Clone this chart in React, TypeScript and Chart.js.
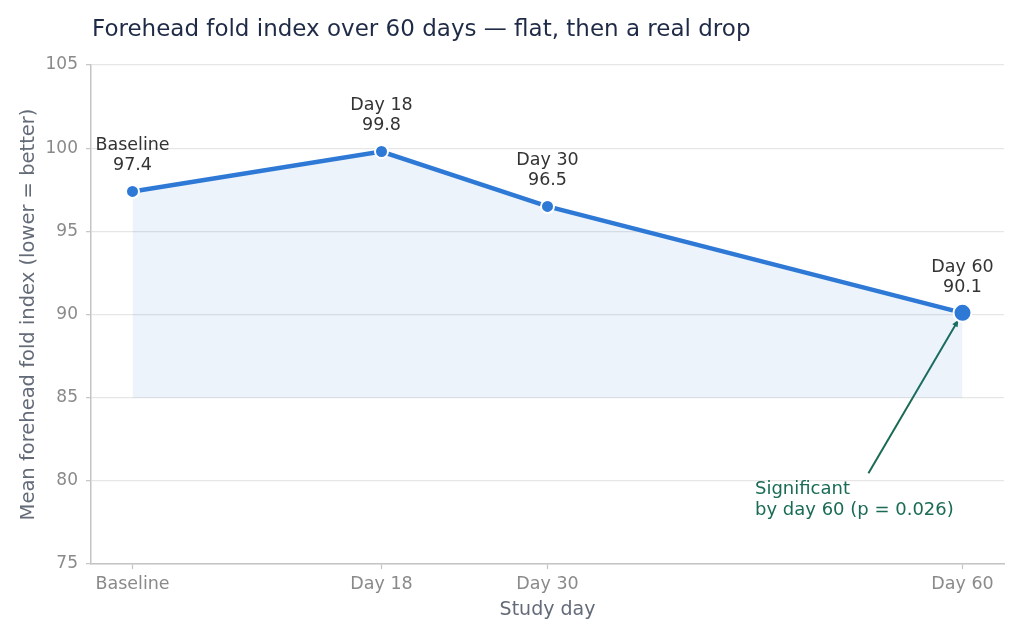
import React, { useEffect, useRef } from "react";
import { Chart, registerables } from "chart.js";

Chart.register(...registerables);

// ---- data ----
const categories = ["Baseline", "Day 18", "Day 30", "Day 60"];
const studyDays = [0, 18, 30, 60];
const foldIndex = [97.4, 99.8, 96.5, 90.1];
const pointRadii = [6.5, 6.5, 6.5, 9];

const titleText = "Forehead fold index over 60 days — flat, then a real drop";
const xAxisTitle = "Study day";
const yAxisTitle = "Mean forehead fold index (lower = better)";
const noteLines = ["Significant", "by day 60 (p = 0.026)"];
const noteAnchorDay = 45;
const noteAnchorValue = 79;
const noteTailDay = 53.2;
const noteTailValue = 80.45;

// ---- style ----
const FONT = "'DejaVu Sans', Verdana, sans-serif";
const LINE_COLOR = "#2e79d5";
const FILL_COLOR = "rgba(46, 121, 213, 0.09)";
const NOTE_COLOR = "#196b55";
const TITLE_COLOR = "#1f2b46";
const LABEL_COLOR = "#333333";
const TICK_COLOR = "#8a8a8a";
const AXIS_TITLE_COLOR = "#646b78";
const GRID_COLOR = "#e6e6e6";
const AXIS_COLOR = "#c4c4c4";

const overlayPlugin = {
  id: "overlay",
  beforeDatasetsDraw(chart: any) {
    const { ctx, scales } = chart;
    const x = scales.x;
    const y = scales.y;
    const last = foldIndex.length - 1;
    const tx = x.getPixelForValue(noteTailDay);
    const ty = y.getPixelForValue(noteTailValue);
    const px = x.getPixelForValue(studyDays[last]);
    const py = y.getPixelForValue(foldIndex[last]);
    const dx = px - tx;
    const dy = py - ty;
    const len = Math.hypot(dx, dy);
    const ux = dx / len;
    const uy = dy / len;
    const hx = px - ux * 8;
    const hy = py - uy * 8;
    ctx.save();
    ctx.strokeStyle = NOTE_COLOR;
    ctx.fillStyle = NOTE_COLOR;
    ctx.lineWidth = 2;
    ctx.beginPath();
    ctx.moveTo(tx, ty);
    ctx.lineTo(hx - ux * 4, hy - uy * 4);
    ctx.stroke();
    // small arrow head (mostly hidden under the marker)
    const ah = 7;
    const aw = 3;
    ctx.beginPath();
    ctx.moveTo(hx, hy);
    ctx.lineTo(hx - ux * ah - uy * aw, hy - uy * ah + ux * aw);
    ctx.lineTo(hx - ux * ah + uy * aw, hy - uy * ah - ux * aw);
    ctx.closePath();
    ctx.fill();
    ctx.restore();
  },
  afterDatasetsDraw(chart: any) {
    const { ctx, scales } = chart;
    const meta = chart.getDatasetMeta(0);
    ctx.save();
    ctx.font = `17.5px ${FONT}`;
    ctx.fillStyle = LABEL_COLOR;
    ctx.textAlign = "center";
    ctx.textBaseline = "alphabetic";
    meta.data.forEach((pt: any, i: number) => {
      ctx.fillText(categories[i], pt.x, pt.y - 41);
      ctx.fillText(foldIndex[i].toFixed(1), pt.x, pt.y - 21);
    });
    // annotation text
    const ax = scales.x.getPixelForValue(noteAnchorDay);
    const ay = scales.y.getPixelForValue(noteAnchorValue);
    ctx.font = `18px ${FONT}`;
    ctx.fillStyle = NOTE_COLOR;
    ctx.textAlign = "left";
    ctx.fillText(noteLines[0], ax, ay - 3);
    ctx.fillText(noteLines[1], ax, ay + 18);
    ctx.restore();
  },
  afterDraw(chart: any) {
    const { ctx } = chart;
    ctx.save();
    ctx.font = `23px ${FONT}`;
    ctx.fillStyle = TITLE_COLOR;
    ctx.textAlign = "left";
    ctx.textBaseline = "alphabetic";
    ctx.fillText(titleText, 92, 36);
    ctx.restore();
  },
};

export default function App() {
  const canvasRef = useRef<HTMLCanvasElement | null>(null);

  useEffect(() => {
    if (!canvasRef.current) return;
    const chart = new Chart(canvasRef.current, {
      type: "line",
      data: {
        datasets: [
          {
            label: "Mean forehead fold index",
            data: studyDays.map((d, i) => ({ x: d, y: foldIndex[i] })),
            borderColor: LINE_COLOR,
            backgroundColor: FILL_COLOR,
            borderWidth: 4.5,
            fill: { value: 85 },
            tension: 0,
            pointRadius: pointRadii,
            pointHoverRadius: pointRadii,
            pointBackgroundColor: LINE_COLOR,
            pointBorderColor: "#ffffff",
            pointBorderWidth: 2,
          },
        ],
      },
      options: {
        animation: false,
        responsive: true,
        maintainAspectRatio: false,
        layout: { padding: { top: 65, right: 20, bottom: 0, left: 0 } },
        plugins: {
          legend: { display: false },
          title: { display: false },
          tooltip: { enabled: false },
        },
        scales: {
          x: {
            type: "linear",
            min: -3,
            max: 63,
            afterBuildTicks: (scale: any) => {
              scale.ticks = studyDays.map((v) => ({ value: v }));
            },
            afterFit: (scale: any) => {
              scale.height = 76;
            },
            ticks: {
              color: TICK_COLOR,
              font: { family: FONT, size: 17.5 },
              padding: 5,
              maxRotation: 0,
              autoSkip: false,
              callback: (v: any) => {
                const idx = studyDays.indexOf(Number(v));
                return idx >= 0 ? categories[idx] : "";
              },
            },
            grid: {
              drawOnChartArea: false,
              drawTicks: true,
              tickLength: 5,
              tickColor: AXIS_COLOR,
              tickWidth: 1.2,
            },
            border: { display: true, color: AXIS_COLOR, width: 1.5 },
            title: {
              display: true,
              text: xAxisTitle,
              color: AXIS_TITLE_COLOR,
              font: { family: FONT, size: 19 },
              padding: { top: 0, bottom: 19 },
            },
          },
          y: {
            type: "linear",
            min: 75,
            max: 105,
            afterFit: (scale: any) => {
              scale.width = 91;
            },
            ticks: {
              stepSize: 5,
              color: TICK_COLOR,
              font: { family: FONT, size: 17 },
              padding: 8,
            },
            grid: {
              color: GRID_COLOR,
              lineWidth: 1.3,
              drawTicks: true,
              tickLength: 5,
              tickColor: AXIS_COLOR,
              tickWidth: 1.2,
            },
            border: { display: true, color: AXIS_COLOR, width: 1.5 },
            title: {
              display: true,
              text: yAxisTitle,
              color: AXIS_TITLE_COLOR,
              font: { family: FONT, size: 19.5 },
              padding: { top: 17, bottom: 0 },
            },
          },
        },
      },
      plugins: [overlayPlugin],
    });
    return () => chart.destroy();
  }, []);

  return (
    <div style={{ position: "absolute", left: 0, top: 0, width: 1024, height: 640, background: "#ffffff" }}>
      <canvas ref={canvasRef} />
    </div>
  );
}
